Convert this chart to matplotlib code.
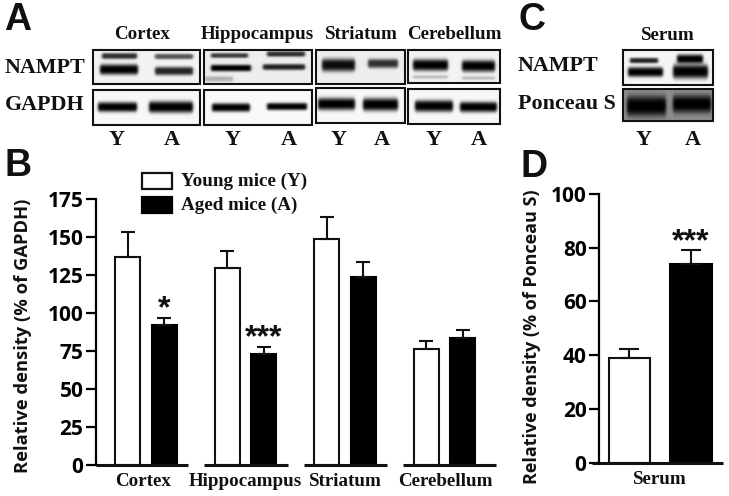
import matplotlib

matplotlib.use("Agg")
import matplotlib.pyplot as plt
import numpy as np
from matplotlib.patches import Rectangle

W, H = 729, 496
SERIF = "Liberation Serif"
SANS = "Open Sans"
LETTER = "Liberation Sans"

regions = ["Cortex", "Hippocampus", "Striatum", "Cerebellum"]
young = [136.6, 129.4, 148.5, 76.1]
young_err = [16.9, 11.6, 14.5, 5.3]
aged = [92.3, 72.8, 123.7, 83.5]
aged_err = [4.2, 4.8, 10.1, 5.3]
stars_b = ["*", "***", "", ""]
ticks_b = [0, 25, 50, 75, 100, 125, 150, 175]

serum = [38.9, 73.9]
serum_err = [3.4, 5.1]
ticks_d = [0, 20, 40, 60, 80, 100]

# blot panels: left, top, right, bottom in pixels, background grey
panels_top = [(93, 50, 200, 84, 0.95), (204, 50, 312, 84, 0.93), (316, 50, 405, 84, 0.93),
              (408, 50, 500, 83, 0.95), (623, 50, 713, 85, 0.96)]
panels_low = [(93, 90, 200, 125, 0.97), (204, 90, 312, 125, 0.98), (316, 88, 405, 123, 0.97),
              (408, 89, 500, 124, 0.97), (623, 89, 713, 121, 0.55)]

# bands: x0, x1, y centre, thickness, darkness
bands_top = [
    [(102, 137, 56, 4.5, 0.8), (155, 193, 56.5, 4, 0.65), (100, 138, 69.5, 8, 1), (155, 193, 71, 6.5, 0.85)],
    [(211, 248, 55.5, 3.5, 0.75), (267, 305, 54, 4, 0.8), (211, 251, 68, 5, 1), (263, 305, 67, 4.5, 0.85),
     (205, 233, 79, 4, 0.25)],
    [(322, 355, 65, 10, 0.95), (368, 398, 63.5, 7, 0.8)],
    [(413, 448, 65, 9, 1), (462, 495, 66, 9, 1), (413, 448, 77, 2.5, 0.2), (462, 495, 78, 2.5, 0.2)],
    [(630, 658, 60.5, 4, 0.85), (677, 703, 59, 7, 1), (628, 663, 72, 7.5, 1), (673, 708, 71.5, 11, 1)],
]
bands_low = [
    [(98, 137, 107, 7.5, 1), (149, 193, 107, 9, 1)],
    [(212, 250, 107.5, 6.5, 1), (267, 307, 106.5, 5.5, 1)],
    [(318, 355, 104, 9.5, 1), (363, 398, 104.5, 10, 1)],
    [(415, 453, 106, 9, 1), (460, 497, 107, 8, 1)],
    [(627, 666, 106, 16, 1), (673, 711, 104, 14, 1)],
]


def blot(panel, bands):
    # soft dark bands on a grey membrane
    l, t, r, b, bg = panel
    xs = np.arange(l, r, 0.5) + 0.25
    ys = np.arange(t, b, 0.5) + 0.25
    xx, yy = np.meshgrid(xs, ys)
    img = np.full(xx.shape, float(bg))
    for x0, x1, yc, th, dark in bands:
        across = 0.5 * (np.tanh((xx - x0) / 1.5) - np.tanh((xx - x1) / 1.5))
        taper = 1.2 * th * (0.7 + 0.3 * np.sqrt(np.clip(across, 0, 1)))
        down = np.exp(-np.abs((yy - yc) / (taper / 2 + 0.4)) ** 3)
        img *= 1 - dark * across * down
    return img


def px_axes(fig, l, t, r, b):
    return fig.add_axes([l / W, 1 - b / H, (r - l) / W, (b - t) / H])


def style_axis(ax, ticks):
    for side in ("top", "right", "bottom"):
        ax.spines[side].set_visible(False)
    ax.spines["left"].set_linewidth(1.6)
    ax.set_yticks(ticks)
    ax.set_xticks([])
    ax.tick_params(axis="y", width=1.6, length=7, pad=2)
    for lab in ax.get_yticklabels():
        lab.set_fontfamily(SANS)
        lab.set_fontweight("bold")
        lab.set_fontsize(15)
    ax.patch.set_alpha(0)


fig = plt.figure(figsize=(W / 100, H / 100), dpi=100)

# full figure layer in pixels for the blots and the free labels
bg = fig.add_axes([0, 0, 1, 1])
bg.set_xlim(0, W)
bg.set_ylim(H, 0)
bg.axis("off")

for panels, bands in ((panels_top, bands_top), (panels_low, bands_low)):
    for panel, band in zip(panels, bands):
        l, t, r, b, _ = panel
        bg.imshow(blot(panel, band), extent=(l, r, b, t), cmap="gray", vmin=0, vmax=1,
                  aspect="auto", interpolation="bilinear", zorder=1)
        bg.add_patch(Rectangle((l, t), r - l, b - t, fill=False, ec="#111111", lw=1.5, zorder=2))
bg.set_xlim(0, W)
bg.set_ylim(H, 0)


def serif(x, y, s, size=13.7, ha="center"):
    bg.text(x, y, s, family=SERIF, weight="bold", fontsize=size, ha=ha, va="center", color="#111111")


for name, x in zip(regions, [142, 257, 361, 454]):
    serif(x, 34.5, name)
serif(668, 35, "Serum")
for s, x in zip(["Y", "A"] * 5, [117, 172, 233, 289, 339, 382, 434, 479, 644, 693]):
    serif(x, 140, s, 16)
serif(5, 68, "NAMPT", 15.8, ha="left")
serif(5, 105, "GAPDH", 15.8, ha="left")
serif(518, 66, "NAMPT", 15.8, ha="left")
serif(518, 104, "Ponceau S", 15.8, ha="left")

for s, x, y in [("A", 4, 20), ("B", 5, 166), ("C", 519, 20), ("D", 521, 167)]:
    bg.text(x, y, s, family=LETTER, weight="bold", fontsize=27, ha="left", va="center", color="#111111")

# panel B
axb = px_axes(fig, 96, 199, 496, 465)
x = np.arange(len(regions))
offset, width = 0.185, 0.25
axb.bar(x - offset, young, width, color="white", edgecolor="#111111", linewidth=1.5,
        yerr=[np.zeros(4), young_err], error_kw=dict(ecolor="#111111", elinewidth=1.5, capsize=5, capthick=1.5))
axb.bar(x + offset, aged, width, color="black", edgecolor="black", linewidth=1.5,
        yerr=[np.zeros(4), aged_err], error_kw=dict(ecolor="#111111", elinewidth=1.5, capsize=5, capthick=1.5))
axb.set_xlim(-0.5025, 3.5175)
axb.set_ylim(0, 175)
style_axis(axb, ticks_b)
for lo, hi in [(-0.5025, 0.42), (0.58, 1.43), (1.59, 2.42), (2.58, 3.5175)]:
    axb.plot([lo, hi], [0, 0], color="#111111", lw=2.2, clip_on=False, solid_capstyle="butt")
for i, s in enumerate(stars_b):
    if s:
        axb.text(i + offset, aged[i] + aged_err[i] - 4, s, family=LETTER, weight="bold", fontsize=23,
                 ha="center", va="bottom", color="#111111")
for name, px in zip(regions, [143, 245, 345, 445]):
    serif(px, 482, name)
bg.text(23, 335.5, "Relative density (% of GAPDH)", family=SANS, weight="bold", fontsize=13.2,
        rotation=90, ha="center", va="center", color="#111111")

# legend drawn by hand, the reference has no frame
bg.add_patch(Rectangle((142, 172.5), 30, 16, fc="white", ec="#111111", lw=1.6, zorder=3))
bg.add_patch(Rectangle((142, 197), 30, 16, fc="black", ec="black", lw=1.6, zorder=3))
serif(181, 181, "Young mice (Y)", 13.8, ha="left")
serif(181, 205, "Aged mice (A)", 13.8, ha="left")

# panel D
axd = px_axes(fig, 599, 193.7, 723, 462.7)
axd.bar([0, 1], serum, 0.67, color=["white", "black"], edgecolor=["#111111", "black"], linewidth=1.5,
        yerr=[[0, 0], serum_err], error_kw=dict(ecolor="#111111", elinewidth=1.5, capsize=7, capthick=1.5))
axd.set_xlim(-0.49, 1.52)
axd.set_ylim(0, 100)
style_axis(axd, ticks_d)
axd.plot([-0.6, 1.52], [0, 0], color="#111111", lw=2.2, clip_on=False, solid_capstyle="butt")
axd.text(1, serum[1] + serum_err[1] - 2.7, "***", family=LETTER, weight="bold", fontsize=23,
         ha="center", va="bottom", color="#111111")
serif(660, 479, "Serum")
bg.text(532, 337, "Relative density (% of Ponceau S)", family=SANS, weight="bold", fontsize=13,
        rotation=90, ha="center", va="center", color="#111111")

fig.savefig("out.png", dpi=100)
